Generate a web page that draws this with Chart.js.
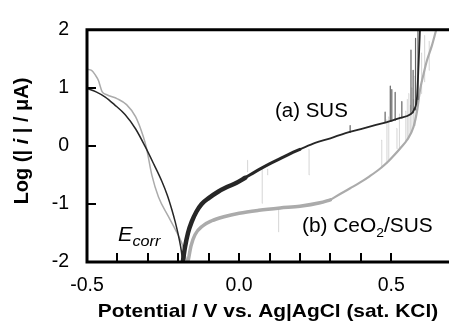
<!DOCTYPE html>
<html><head><meta charset="utf-8">
<script src="https://cdn.jsdelivr.net/npm/chart.js@4.4.0/dist/chart.umd.min.js"></script>
<style>html,body{margin:0;padding:0;background:#fff;overflow:hidden}</style>
</head><body>
<canvas id="c" width="449" height="329" style="display:block;width:449px;height:329px"></canvas>
<script>
// ---- data ----
const xTicks = [-0.5, 0.0, 0.5];
const yTicks = [-2, -1, 0, 1, 2];

// (a) SUS - cathodic branch
const susCathX = [-0.5, -0.47, -0.44, -0.41, -0.375, -0.34, -0.309, -0.28, -0.254, -0.236, -0.221, -0.21, -0.2, -0.192, -0.185];
const susCathY = [0.99, 0.93, 0.84, 0.71, 0.54, 0.29, -0.01, -0.32, -0.61, -0.85, -1.10, -1.31, -1.53, -1.74, -2.0];
// (a) SUS - anodic branch near Ecorr
const susAn1X = [-0.185, -0.178, -0.168, -0.156, -0.14, -0.123, -0.1, -0.069, -0.04, -0.01, 0.02];
const susAn1Y = [-2.0, -1.75, -1.5, -1.31, -1.13, -1.0, -0.9, -0.79, -0.71, -0.64, -0.55];
// (a) SUS - anodic middle
const susAn2X = [0.02, 0.065, 0.1, 0.135, 0.17, 0.2];
const susAn2Y = [-0.55, -0.41, -0.31, -0.22, -0.13, -0.06];
// (a) SUS - passive region and breakdown
const susAn3X = [0.2, 0.25, 0.3, 0.35, 0.4, 0.45, 0.5, 0.53, 0.562, 0.575, 0.585, 0.59, 0.595];
const susAn3Y = [-0.06, 0.05, 0.13, 0.22, 0.29, 0.36, 0.43, 0.48, 0.54, 0.62, 0.85, 1.4, 2.05];
// (a) SUS - pitting spikes (vertical transients)
const spikeX  = [0.365, 0.48, 0.497, 0.502, 0.513, 0.535, 0.565, 0.572, 0.58, 0.588];
const spikeLo = [0.23, 0.40, 0.42, 0.43, 0.44, 0.48, 0.55, 0.57, 0.62, 0.8];
const spikeHi = [0.35, 0.58, 1.03, 0.97, 0.92, 0.76, 1.65, 1.3, 1.85, 2.05];

// (b) CeO2/SUS - cathodic branch
const ceoCathX = [-0.5, -0.485, -0.474, -0.462, -0.455, -0.45, -0.435, -0.4, -0.37, -0.34, -0.315, -0.304, -0.287, -0.265, -0.233, -0.2, -0.184, -0.172];
const ceoCathY = [1.32, 1.3, 1.23, 1.12, 1.0, 0.93, 0.88, 0.81, 0.71, 0.5, 0.16, -0.05, -0.5, -0.88, -1.21, -1.54, -1.74, -2.0];
// (b) CeO2/SUS - anodic branch
const ceoAn1X = [-0.167, -0.158, -0.145, -0.12, -0.09, -0.05, 0.0, 0.065, 0.135, 0.2, 0.266, 0.3];
const ceoAn1Y = [-1.97, -1.72, -1.53, -1.38, -1.29, -1.22, -1.16, -1.11, -1.07, -1.04, -0.98, -0.93];
const ceoAn2X = [0.3, 0.332, 0.365, 0.398, 0.43, 0.464, 0.49, 0.508, 0.53, 0.552, 0.573, 0.585, 0.595, 0.607, 0.617, 0.634, 0.648];
const ceoAn2Y = [-0.93, -0.83, -0.73, -0.63, -0.52, -0.39, -0.27, -0.17, -0.04, 0.10, 0.32, 0.6, 0.97, 1.25, 1.46, 1.73, 2.0];

// faint vertical noise traces
const noiseX  = [0.028, 0.076, 0.094, 0.13, 0.23, 0.469, 0.486, 0.492, 0.519, 0.527, 0.548, 0.553, 0.558, 0.563, 0.568, 0.573, 0.578, 0.6, 0.61, 0.625];
const noiseLo = [-0.45, -0.99, -0.5, -1.48, -0.5, -0.38, -0.3, -0.25, -0.05, -0.05, 0.07, 0.1, 0.15, 0.2, 0.25, 0.3, 0.35, 0.9, 1.1, 1.3];
const noiseHi = [-0.25, -0.38, -0.4, -1.07, -0.06, 0.10, 0.45, 0.5, 0.3, 0.55, 0.6, 0.8, 0.9, 0.7, 1.0, 0.8, 1.2, 1.6, 1.9, 1.8];

// ---- helpers ----
function pts(xs, ys){ return xs.map((x,i)=>({x:x, y:ys[i]})); }
function vsegs(xs, lo, hi){
  const out = [];
  xs.forEach((x,i)=>{ out.push({x:x,y:lo[i]},{x:x,y:hi[i]},{x:x,y:null}); });
  return out;
}
const DARK = '#262626', LIGHT = '#ababab';
const FONT = "'Liberation Sans', Arial, Helvetica, sans-serif";

function line(data, color, width, order, smooth){
  return {data:data, showLine:true, borderColor:color, borderWidth:width, pointRadius:0,
    fill:false, order:order, spanGaps:false, cubicInterpolationMode: smooth ? 'monotone' : 'default', tension:0,
    borderJoinStyle:'round', borderCapStyle:'round'};
}

const deco = {
  id:'deco',
  afterDatasetsDraw(chart){
    const ctx = chart.ctx, a = chart.chartArea, xs = chart.scales.x, ys = chart.scales.y;
    ctx.save();
    ctx.strokeStyle = '#000';
    ctx.lineWidth = 2;
    xs.ticks.forEach(t=>{
      const px = Math.round(xs.getPixelForValue(t.value));
      ctx.beginPath(); ctx.moveTo(px, a.bottom); ctx.lineTo(px, a.bottom-9); ctx.stroke();
    });
    ys.ticks.forEach(t=>{
      const py = Math.round(ys.getPixelForValue(t.value));
      ctx.beginPath(); ctx.moveTo(a.left, py); ctx.lineTo(a.left+9, py); ctx.stroke();
    });
    ctx.lineWidth = 3;
    ctx.beginPath();
    ctx.moveTo(a.left, a.top-1.5); ctx.lineTo(a.left, a.bottom+1.5);
    ctx.moveTo(a.left-1.5, a.top); ctx.lineTo(chart.width, a.top);
    ctx.moveTo(a.left-1.5, a.bottom); ctx.lineTo(chart.width, a.bottom);
    ctx.stroke();

    ctx.fillStyle = '#000';
    ctx.textBaseline = 'alphabetic';
    function seq(parts, x, y, sx, align){
      ctx.save(); ctx.translate(x, y); ctx.scale(sx, 1);
      let w = 0;
      parts.forEach(p=>{ ctx.font = p.f; w += ctx.measureText(p.t).width; });
      let cx = align === 'center' ? -w/2 : 0;
      ctx.textAlign = 'left';
      parts.forEach(p=>{ ctx.font = p.f; ctx.fillText(p.t, cx, p.dy||0); cx += ctx.measureText(p.t).width; });
      ctx.restore();
    }
    const R = '19.5px ' + FONT, B = 'bold 19px ' + FONT;
    seq([{t:'(a) SUS', f:R}], 275, 117, 1.05, 'left');
    seq([{t:'(b) CeO', f:R}, {t:'2', f:'13px '+FONT, dy:5}, {t:'/SUS', f:R}], 302, 232, 1.07, 'left');
    seq([{t:'E', f:'italic 20px '+FONT}, {t:'corr', f:'italic 15px '+FONT, dy:5}], 118, 241, 1.08, 'left');
    seq([{t:'Potential / V vs. Ag|AgCl (sat. KCl)', f:B}], 268, 317, 1.1, 'center');
    // rotated y title
    ctx.save();
    ctx.translate(28, 141); ctx.rotate(-Math.PI/2);
    const YB = 'bold 20px ' + FONT, YI = 'italic bold 20px ' + FONT;
    const parts = [{t:'Log (| ', f:YB}, {t:'i', f:YI}, {t:' | / \u03BCA)', f:YB}];
    let w = 0; parts.forEach(p=>{ ctx.font = p.f; w += ctx.measureText(p.t).width; });
    let cx = -w/2; ctx.textAlign = 'left';
    parts.forEach(p=>{ ctx.font = p.f; ctx.fillText(p.t, cx, 0); cx += ctx.measureText(p.t).width; });
    ctx.restore();
    ctx.restore();
  }
};

new Chart(document.getElementById('c'), {
  type:'scatter',
  data:{ datasets:[
    line(pts(susCathX, susCathY), DARK, 1.5, 0, true),
    line(pts(susAn1X, susAn1Y), DARK, 4.5, 0, true),
    line(pts(susAn2X, susAn2Y), DARK, 3, 0, true),
    line(pts(susAn3X, susAn3Y), DARK, 1.8, 0, true),
    line(vsegs(spikeX, spikeLo, spikeHi), 'rgba(60,60,60,0.8)', 1.2, 1, false),
    line(pts(ceoCathX, ceoCathY), LIGHT, 1.5, 2, true),
    line(pts(ceoAn1X, ceoAn1Y), LIGHT, 3.5, 2, true),
    line(pts(ceoAn2X, ceoAn2Y), LIGHT, 2.2, 2, true),
    line(vsegs(noiseX, noiseLo, noiseHi), 'rgba(150,150,150,0.4)', 1, 3, false)
  ]},
  options:{
    responsive:false, animation:false, events:[],
    layout:{padding:{left:0, right:0, top:17, bottom:0}},
    plugins:{legend:{display:false}, tooltip:{enabled:false}},
    scales:{
      x:{ type:'linear', min:-0.5, max:0.69,
        border:{display:false}, grid:{display:false, drawTicks:false},
        afterBuildTicks(s){ s.ticks = s.ticks.filter(t => Math.abs(t.value*10 - Math.round(t.value*10)) < 1e-6 && t.value < 0.65); },
        afterFit(s){ s.height = 67; },
        ticks:{ stepSize:0.1, padding:12, color:'#000', maxRotation:0, autoSkip:false,
          font:{family:FONT, size:19.5},
          callback(v){ const r = Math.round(v*10)/10; return xTicks.some(t=>Math.abs(t-r)<1e-6) ? r.toFixed(1) : ''; } }
      },
      y:{ type:'linear', min:-2, max:2,
        border:{display:false}, grid:{display:false, drawTicks:false},
        afterFit(s){ s.width = 87; },
        ticks:{ stepSize:1, padding:18, color:'#000', font:{family:FONT, size:19.5},
          callback(v){ return yTicks.includes(v) ? String(v) : ''; } }
      }
    }
  },
  plugins:[deco]
});
</script>
</body></html>
